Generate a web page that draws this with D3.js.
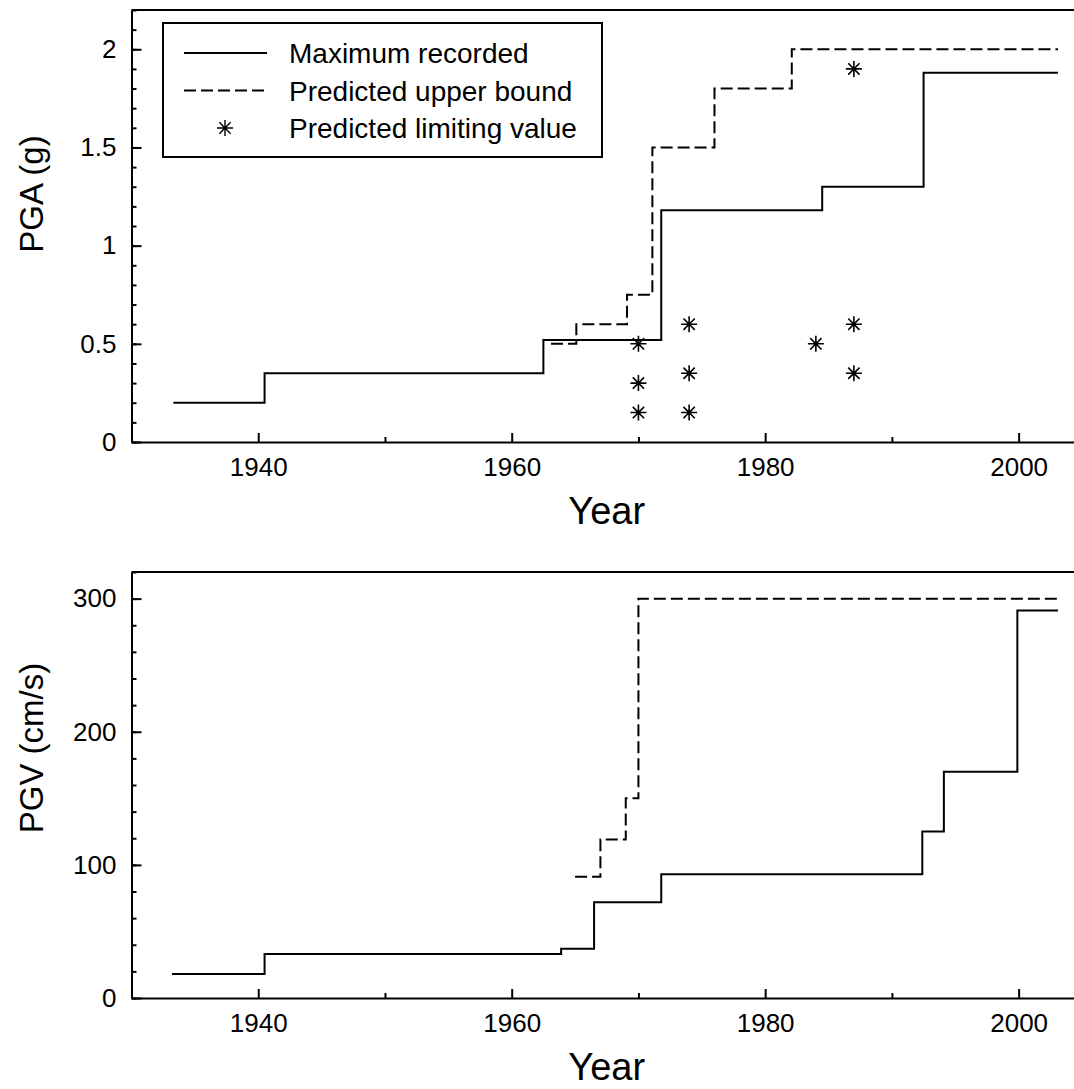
<!DOCTYPE html>
<html>
<head>
<meta charset="utf-8">
<script src="https://cdn.jsdelivr.net/npm/d3@7"></script>
<style>
  body { margin: 0; background: #fff; }
  svg { display: block; font-family: "Liberation Sans", Arial, Helvetica, sans-serif; }
  .axis path, .axis line { stroke: #000; stroke-width: 2; }
  .axis text { font-size: 26px; fill: #000; }
</style>
</head>
<body>
<div id="chart"></div>
<script>
// values
var yearTicks = [1940, 1960, 1980, 2000];
var yearMinor = [1950, 1970, 1990];

var pgaTicks = [0, 0.5, 1, 1.5, 2];
var pgaRecYears = [1933.3, 1940.5, 1962.5, 1971.8, 1984.5, 1992.5, 2003.1];
var pgaRecValues = [0.2, 0.35, 0.52, 1.18, 1.3, 1.88, 1.88];
var pgaBoundYears = [1963.1, 1965.1, 1969.1, 1971.1, 1976, 1982.1, 2003.1];
var pgaBoundValues = [0.5, 0.6, 0.75, 1.5, 1.8, 2.0, 2.0];
var pgaLimitYears = [1970, 1970, 1970, 1974, 1974, 1974, 1984, 1987, 1987, 1987];
var pgaLimitValues = [0.5, 0.3, 0.15, 0.6, 0.35, 0.15, 0.5, 1.9, 0.6, 0.35];

var pgvTicks = [0, 100, 200, 300];
var pgvRecYears = [1933.2, 1940.5, 1963.9, 1966.5, 1971.8, 1992.4, 1994.1, 1999.9, 2003.1];
var pgvRecValues = [18, 33, 37, 72, 93, 125, 170, 291, 291];
var pgvBoundYears = [1965, 1967, 1969, 1970, 2003.1];
var pgvBoundValues = [91, 119, 150, 300, 300];

var legendLabels = ["Maximum recorded", "Predicted upper bound", "Predicted limiting value"];

var width = 1074, height = 1089;

var svg = d3.select("#chart").append("svg")
  .attr("width", width)
  .attr("height", height);

svg.append("rect").attr("width", width).attr("height", height).attr("fill", "#fff");

var x = d3.scaleLinear().domain([1930, 2005]).range([131.5, 1082]);

var zip = (a, b) => a.map((v, i) => [v, b[i]]);

// asterisk marker, 8 spokes
var star = function(r) {
  var d = "", k = r * Math.SQRT1_2;
  d += `M${-r},0L${r},0M0,${-r}L0,${r}`;
  d += `M${-k},${-k}L${k},${k}M${-k},${k}L${k},${-k}`;
  return d;
};

var drawStar = function(sel) {
  sel.append("path")
    .attr("d", star(8))
    .attr("stroke", "#000").attr("stroke-width", 1.6).attr("fill", "none");
  sel.append("circle").attr("r", 2).attr("fill", "#000");
};

var panel = function(opt) {
  var y = d3.scaleLinear().domain(opt.domain).range([opt.bottom, opt.top]);
  var g = svg.append("g");

  // minor ticks
  g.append("g").attr("class", "axis")
    .attr("transform", `translate(0,${opt.bottom})`)
    .call(d3.axisBottom(x).tickValues(yearMinor).tickSize(-5).tickSizeOuter(0).tickFormat(""))
    .call(a => a.select(".domain").remove());
  g.append("g").attr("class", "axis")
    .attr("transform", `translate(${x.range()[0]},0)`)
    .call(d3.axisLeft(y).tickValues(opt.minor).tickSize(-5).tickSizeOuter(0).tickFormat(""))
    .call(a => a.select(".domain").remove());

  g.append("g").attr("class", "axis")
    .attr("transform", `translate(0,${opt.bottom})`)
    .call(d3.axisBottom(x).tickValues(yearTicks).tickSize(-9).tickSizeOuter(0).tickPadding(16).tickFormat(d3.format("d")));

  g.append("g").attr("class", "axis")
    .attr("transform", `translate(${x.range()[0]},0)`)
    .call(d3.axisLeft(y).tickValues(opt.ticks).tickSize(-10).tickSizeOuter(0).tickPadding(15).tickFormat(d3.format("~g")));

  // top frame line
  g.append("line")
    .attr("x1", x.range()[0]).attr("x2", x.range()[1])
    .attr("y1", y.range()[1]).attr("y2", y.range()[1])
    .attr("stroke", "#000").attr("stroke-width", 2);

  var line = d3.line().curve(d3.curveStepAfter).x(d => x(d[0])).y(d => y(d[1]));

  g.append("path")
    .datum(zip(opt.recYears, opt.recValues))
    .attr("fill", "none").attr("stroke", "#000").attr("stroke-width", 2)
    .attr("d", line);

  g.append("path")
    .datum(zip(opt.boundYears, opt.boundValues))
    .attr("fill", "none").attr("stroke", "#000").attr("stroke-width", 2)
    .attr("stroke-dasharray", "12,5")
    .attr("d", line);

  if (opt.limYears) {
    g.append("g").selectAll("g")
      .data(zip(opt.limYears, opt.limValues))
      .join("g")
      .attr("transform", d => `translate(${x(d[0])},${y(d[1])})`)
      .call(drawStar);
  }

  g.append("text")
    .attr("x", (x.range()[0] + x.range()[1]) / 2)
    .attr("y", opt.bottom + 82)
    .attr("text-anchor", "middle")
    .attr("font-size", 38)
    .text("Year");

  g.append("text")
    .attr("transform", `translate(43,${opt.labelY}) rotate(-90)`)
    .attr("text-anchor", "middle")
    .attr("font-size", 33)
    .text(opt.label);

  return y;
};

panel({
  domain: [0, 2.2], top: 10, bottom: 442,
  ticks: pgaTicks, minor: d3.range(0, 2.21, 0.1),
  recYears: pgaRecYears, recValues: pgaRecValues,
  boundYears: pgaBoundYears, boundValues: pgaBoundValues,
  limYears: pgaLimitYears, limValues: pgaLimitValues,
  label: "PGA (g)", labelY: 194
});

panel({
  domain: [0, 320], top: 572, bottom: 998,
  ticks: pgvTicks, minor: d3.range(0, 321, 20),
  recYears: pgvRecYears, recValues: pgvRecValues,
  boundYears: pgvBoundYears, boundValues: pgvBoundValues,
  label: "PGV (cm/s)", labelY: 748
});

// legend
var legend = svg.append("g");
legend.append("rect")
  .attr("x", 163).attr("y", 23).attr("width", 439).attr("height", 134)
  .attr("fill", "#fff").attr("stroke", "#000").attr("stroke-width", 2);

var rows = legend.selectAll("g.row").data(legendLabels).join("g")
  .attr("class", "row")
  .attr("transform", (d, i) => `translate(0,${53 + i * 37.5})`);

rows.filter((d, i) => i < 2).append("line")
  .attr("x1", 184).attr("x2", 267)
  .attr("stroke", "#000").attr("stroke-width", 2)
  .attr("stroke-dasharray", (d, i) => i === 1 ? "12,5" : null);

rows.filter((d, i) => i === 2).append("path")
  .attr("transform", "translate(225,0)")
  .attr("d", star(8))
  .attr("stroke", "#000").attr("stroke-width", 1.4).attr("fill", "none");

rows.append("text")
  .attr("x", 289).attr("y", 10)
  .attr("font-size", 28)
  .text(d => d);
</script>
</body>
</html>
